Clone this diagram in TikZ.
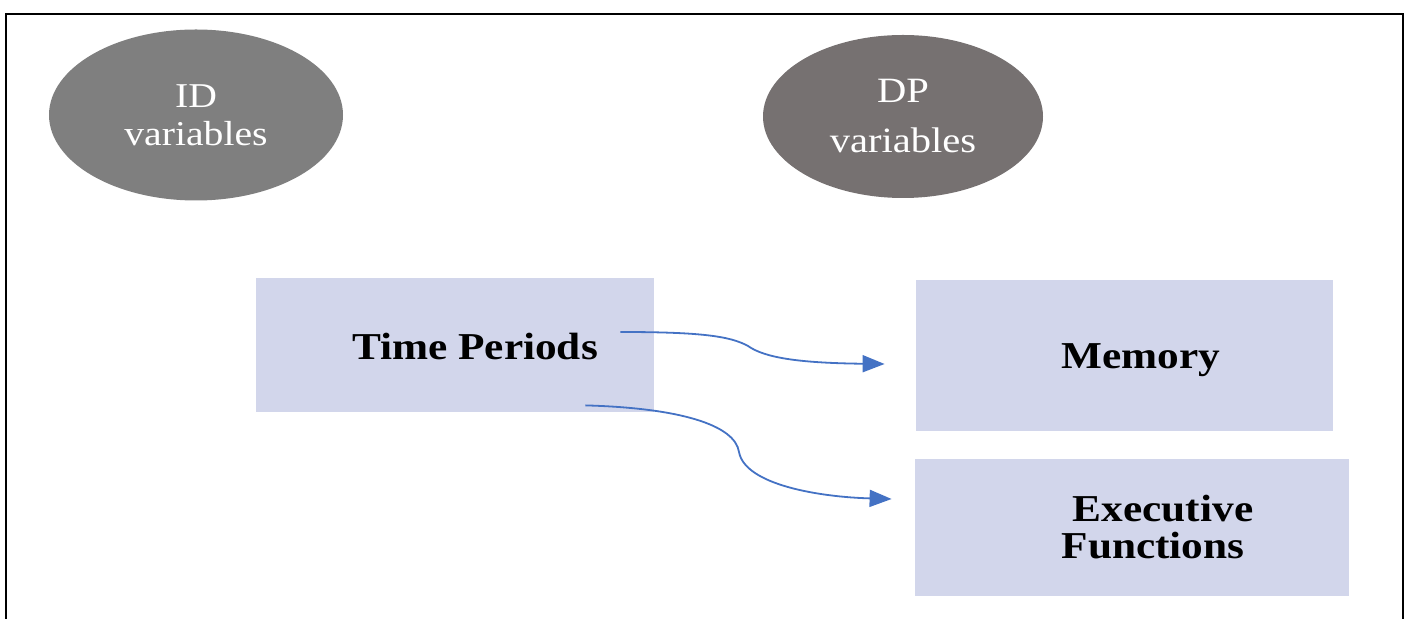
\documentclass[tikz,border=0pt]{standalone}
\usepackage{fontspec}
\setmainfont{Liberation Serif}[FakeStretch=1.14]
\definecolor{idGrey}{HTML}{7F7F7F}
\definecolor{dpGrey}{HTML}{767171}
\definecolor{boxLavender}{HTML}{D2D6EB}
\definecolor{flowBlue}{HTML}{4472C4}
\usetikzlibrary{arrows.meta, shapes.geometric}
\tikzset{
    var node/.style={ellipse, inner sep=0pt, text=white, align=center, font=\fontsize{17.4}{19}\selectfont},
    box node/.style={rectangle, fill=boxLavender, inner sep=0pt, align=center, font=\fontsize{19}{18.5}\selectfont\bfseries},
    flow arrow/.style={-{Triangle[length=11pt, width=8.5pt]}, line width=0.9pt, flowBlue},
}

\begin{document}
\begin{tikzpicture}[x=0.5pt, y=-0.5pt]
    \useasboundingbox (0,0) rectangle (1409,619);
    \draw[line width=1.3pt] (6,640) -- (6,14) -- (1403,14) -- (1403,640);

    \node[var node, fill=idGrey, minimum width=147pt, minimum height=85.5pt] (idvar) at (196,115) {ID\\variables};
    \node[var node, fill=dpGrey, minimum width=140pt, minimum height=81.5pt, font=\fontsize{17.8}{25}\selectfont] (dpvar) at (903,116.5) {DP\\variables};

    \node[box node, minimum width=199pt, minimum height=67pt] (time) at (455,345) {\hspace*{20pt}\raisebox{-1pt}[\height][\depth]{Time Periods}};
    \node[box node, minimum width=208.5pt, minimum height=75.5pt] (memory) at (1124.5,355.5) {\hspace*{16.5pt}\raisebox{-2.25pt}[\height][\depth]{Memory}};
    \node[box node, minimum width=217pt, minimum height=68.5pt] (exec) at (1132,527.5) {\hspace*{31pt}Executive\\\hspace*{21pt}Functions};

    \draw[flow arrow] ([xshift=-17pt, yshift=6.5pt]time.east)
        .. controls (700,332) and (730,336) .. (748,346)
        .. controls (765,358) and (800,363) .. ([xshift=-15.5pt, yshift=-4.25pt]memory.west);
    \draw[flow arrow] ([xshift=-34.5pt, yshift=3.5pt]time.south east)
        .. controls (680,408) and (735,425) .. (739,452)
        .. controls (745,485) and (820,497) .. ([xshift=-11.5pt, yshift=14.25pt]exec.west);
\end{tikzpicture}
\end{document}
